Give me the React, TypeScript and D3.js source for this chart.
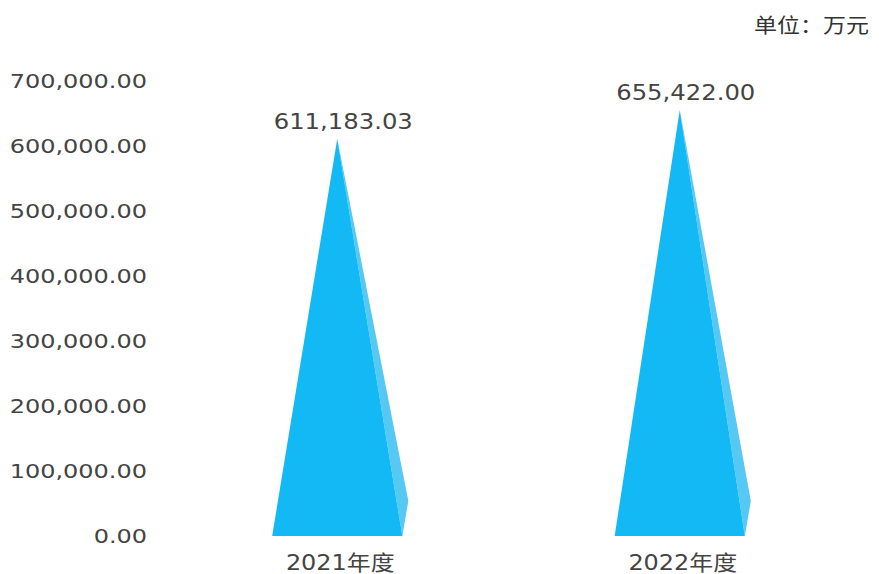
import React from 'react';
import * as d3 from 'd3';

// chart values
const categories = ['2021年度', '2022年度'];
const values = [611183.03, 655422.0];
const yTicks = [0, 100000, 200000, 300000, 400000, 500000, 600000, 700000];
const unitLabel = '单位：万元';

const W = 879;
const H = 574;
const FONT = '"DejaVu Sans", "Noto Sans CJK SC", sans-serif';
const TEXT = '#444';
const MAIN = '#13b9f4';
const SIDE = '#55c9f3';

const fmt = d3.format(',.2f');

const App = () => {
  const x = d3.scaleBand<string>().domain(categories).range([166, 851]);
  const y = d3.scaleLinear().domain([0, 700000]).range([536, 81]);

  const half = x.bandwidth() * 0.19;

  return (
    <svg width={W} height={H} style={{ position: 'absolute', left: 0, top: 0, background: '#fff' }}>
      {/* unit label */}
      <text
        transform={`translate(869,33) scale(1.15,1)`}
        textAnchor="end"
        fontFamily={'"Noto Sans CJK SC", sans-serif'}
        fontSize={20}
        fontWeight={400}
        fill="#333"
      >
        {unitLabel}
      </text>

      {/* y axis labels */}
      {yTicks.map(t => (
        <text
          key={t}
          transform={`translate(147,${y(t)}) scale(1.23,1)`}
          textAnchor="end"
          dy="0.36em"
          fontFamily={FONT}
          fontSize={19.5}
          fill={TEXT}
        >
          {fmt(t)}
        </text>
      ))}

      {/* triangle bars */}
      {categories.map((c, i) => {
        const cx = (x(c) ?? 0) + x.bandwidth() / 2;
        const y0 = y(0);
        const yt = y(values[i]);
        const main = `M${cx},${yt} L${cx + half},${y0} L${cx - half},${y0} Z`;
        const side = `M${cx},${yt} L${cx + half + 6},${y0 - 35} L${cx + half},${y0} Z`;
        return (
          <g key={c}>
            <path d={side} fill={SIDE} />
            <path d={main} fill={MAIN} />
            <text
              transform={`translate(${cx + 6},${yt - 10}) scale(1.13,1)`}
              textAnchor="middle"
              fontFamily={FONT}
              fontSize={21.5}
              fill={TEXT}
            >
              {fmt(values[i])}
            </text>
            <text
              transform={`translate(${cx + 3},570) scale(1.14,1)`}
              textAnchor="middle"
              fontFamily={FONT}
              fontSize={21}
              fill={TEXT}
            >
              {c}
            </text>
          </g>
        );
      })}
    </svg>
  );
};

export default App;
